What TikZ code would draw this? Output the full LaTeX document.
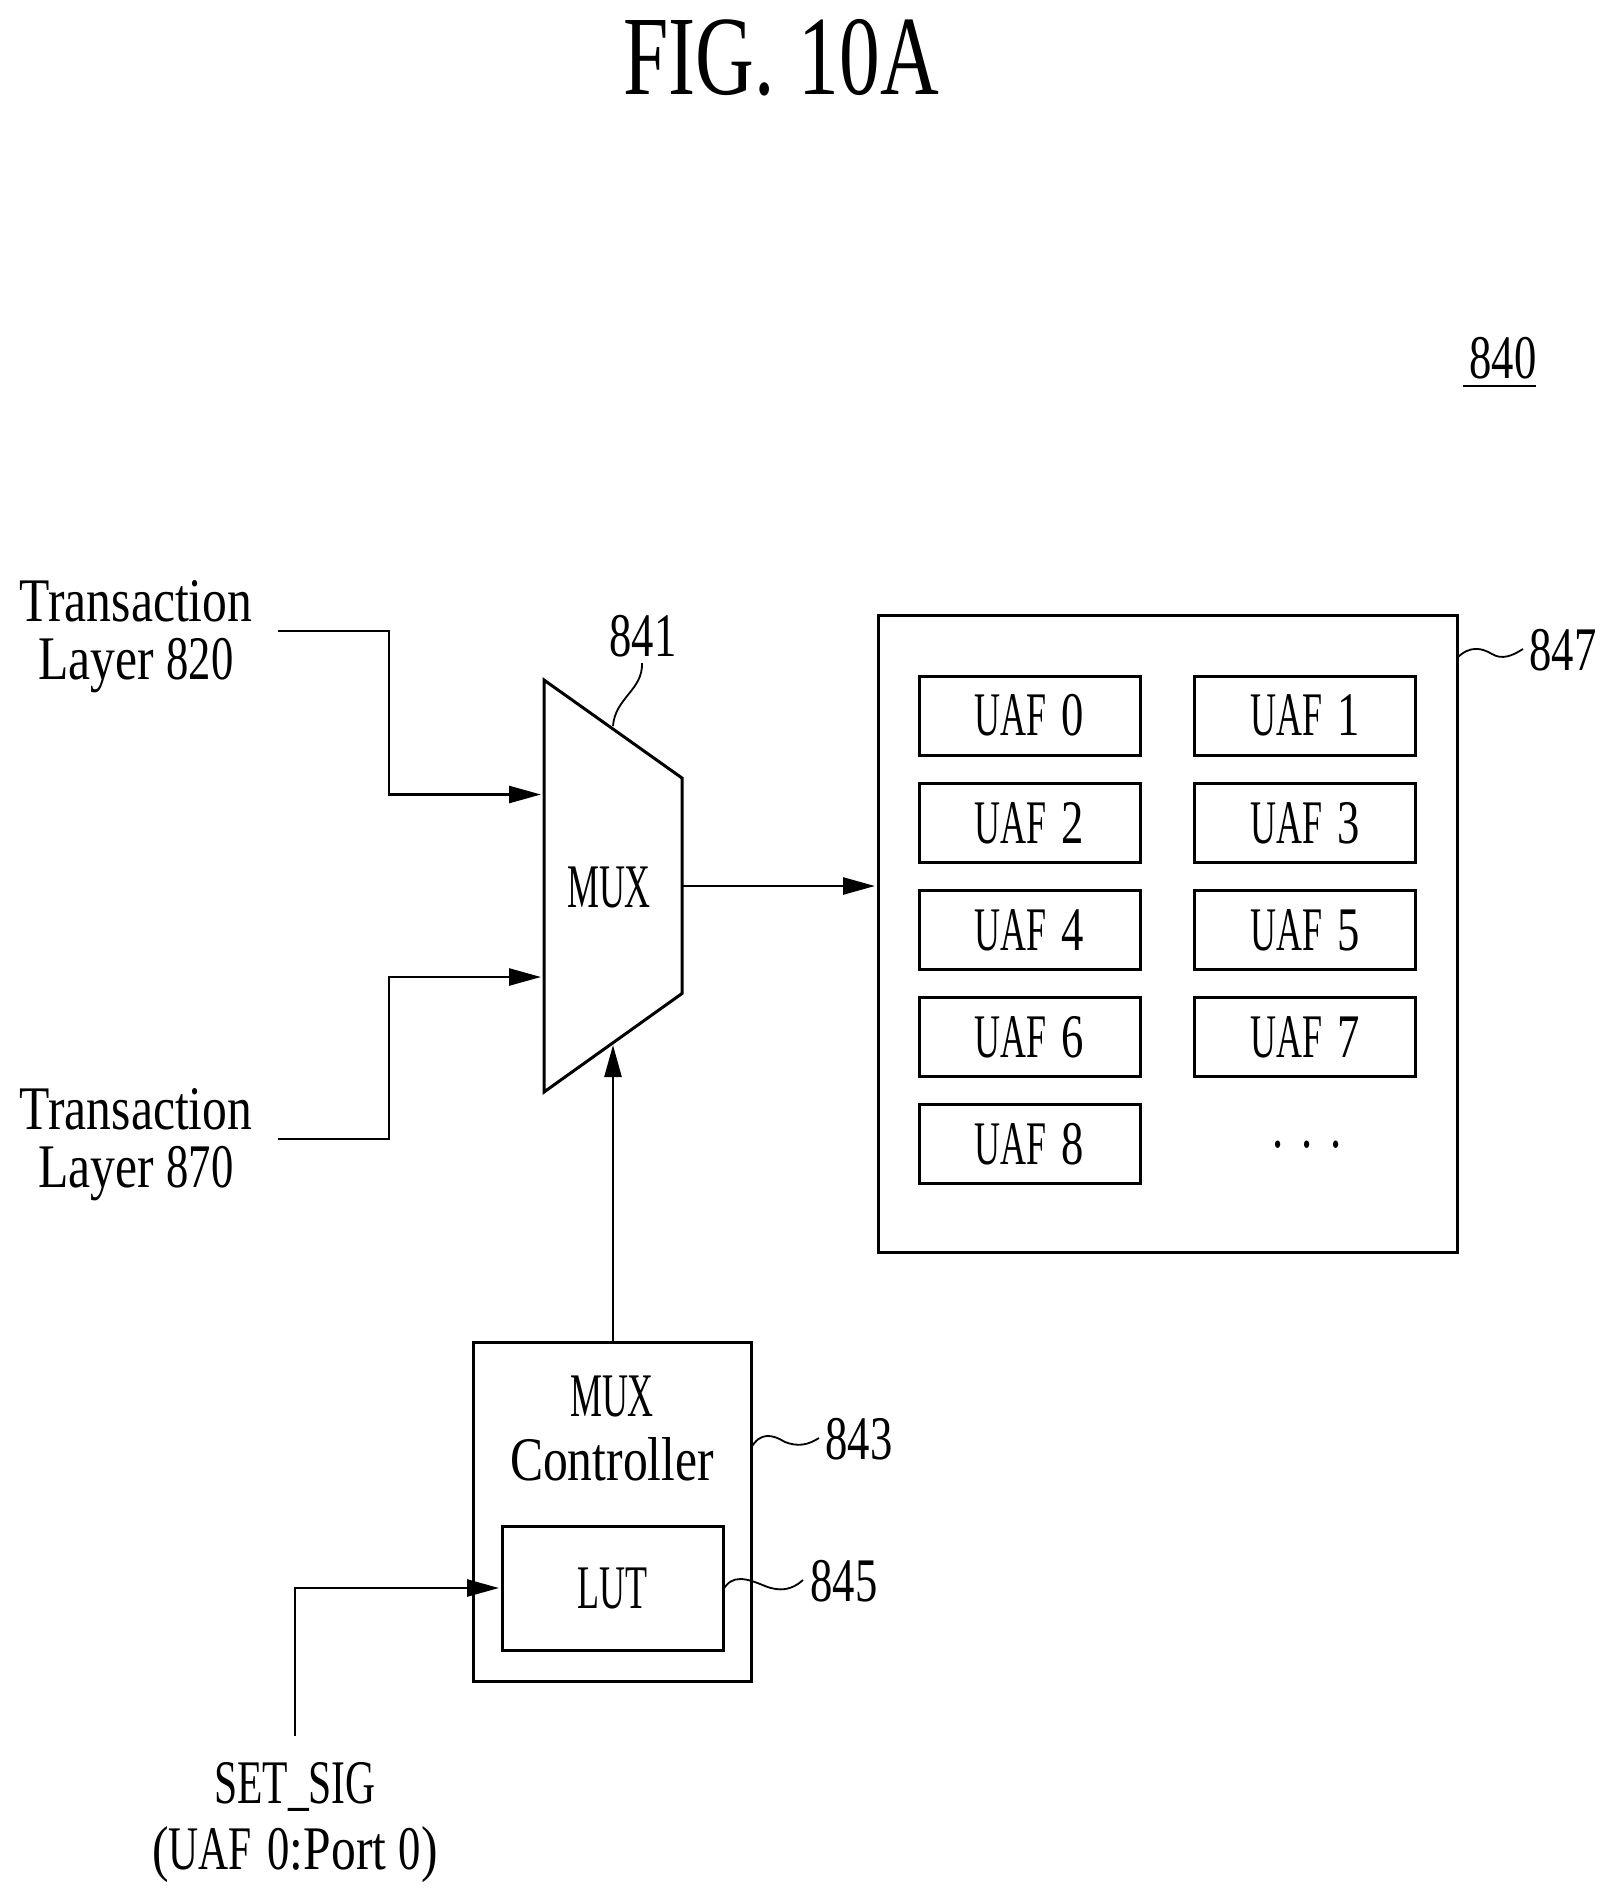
\documentclass[tikz,border=0pt]{standalone}
\usepackage{fontspec}
\setmainfont{Liberation Serif}
\newfontfamily\fmix[FakeStretch=0.80]{Liberation Serif}
\newfontfamily\fcap[FakeStretch=0.58,WordSpace=1.7]{Liberation Serif}
\newfontfamily\fdig[FakeStretch=0.72]{Liberation Serif}
\newfontfamily\fsig[FakeStretch=0.67,WordSpace=1.5]{Liberation Serif}
\newfontfamily\ftitle[FakeStretch=0.72,WordSpace=1.2]{Liberation Serif}
\usetikzlibrary{arrows.meta}
\tikzset{
  lab/.style={inner sep=0pt,outer sep=0pt,align=center,font=\fontsize{31}{29}\selectfont\fdig},
  mixlab/.style={lab,font=\fontsize{31}{29}\selectfont\fmix},
  box/.style 2 args={draw=black,line width=1.5pt,rectangle,inner sep=0pt,outer sep=0pt,
    minimum width=#1*0.5pt,minimum height=#2*0.5pt,font=\fontsize{31}{29}\selectfont\fcap},
  uafbox/.style={box={221}{79}},
  wire/.style={draw=black,line width=1.3pt},
  arrowwire/.style={wire,-{Triangle[length=16pt,width=8.5pt]},shorten >=1.5pt},
  leader/.style={draw=black,line width=0.9pt}
}
\begin{document}
\begin{tikzpicture}[x=0.5pt,y=-0.5pt]
\useasboundingbox (0,0) rectangle (1616,1903);
% title and reference
\node[lab,font=\fontsize{56.5}{60}\selectfont\ftitle] (title) at (781,58) {FIG. 10A};
\node[lab] (r840) at (1503,358) {840};
\coordinate (ul1) at (1463,386);
\coordinate (ul2) at (1536,386);
\draw[wire] (ul1) -- (ul2);
% inputs
\node[mixlab] (t820) at (136,637) {Transaction\\Layer {\fdig 820}};
\node[mixlab] (t870) at (136,1145) {Transaction\\Layer {\fdig 870}};
\coordinate (s820) at (278,631);
\coordinate (c820) at (389,631);
\coordinate (s870) at (278,1139);
\coordinate (c870) at (389,1139);
% mux
\coordinate (m1) at (544,680);
\coordinate (m2) at (682,778);
\coordinate (m3) at (682,993.5);
\coordinate (m4) at (544,1092);
\draw[draw=black,line width=1.5pt,line join=miter] (m1) -- (m2) -- (m3) -- (m4) -- cycle;
\node[lab,font=\fontsize{31}{29}\selectfont\fcap] (mux) at (609,887) {MUX};
\coordinate (in820) at (544,794.5);
\coordinate (in870) at (544,977);
\coordinate (muxout) at (682,886);
\coordinate (muxsel) at (613,1045);
\node[lab] (r841) at (643,636) {841};
\coordinate (l841a) at (642,663);
\coordinate (l841b) at (613,726);
% UAF container
\node[box={579}{637}] (b847) at (1167.5,933.5) {};
\node[uafbox] (u0) at (1029.5,715.5) {UAF {\fdig 0}};
\node[uafbox] (u1) at (1305,715.5) {UAF {\fdig 1}};
\node[uafbox] (u2) at (1029.5,823) {UAF {\fdig 2}};
\node[uafbox] (u3) at (1305,823) {UAF {\fdig 3}};
\node[uafbox] (u4) at (1029.5,930) {UAF {\fdig 4}};
\node[uafbox] (u5) at (1305,930) {UAF {\fdig 5}};
\node[uafbox] (u6) at (1029.5,1037) {UAF {\fdig 6}};
\node[uafbox] (u7) at (1305,1037) {UAF {\fdig 7}};
\node[uafbox] (u8) at (1029.5,1144) {UAF {\fdig 8}};
\node[lab] (dots) at (1307,1145) {.\hspace{8.85pt}.\hspace{8.85pt}.};
\node[lab] (r847) at (1563,650) {847};
\coordinate (l847a) at (1457,658);
\coordinate (l847b) at (1523,649);
\coordinate (in847) at (b847.west |- muxout);
% controller
\node[box={278}{339}] (ctrl) at (612,1511.5) {};
\node[mixlab,font=\fontsize{31}{32}\selectfont\fmix] (ctrltxt) at (612,1428) {{\fcap MUX}\\Controller};
\node[box={221}{124}] (lut) at (612.5,1588) {\raisebox{-1pt}{LUT}};
\node[lab] (r843) at (859,1439) {843};
\node[lab] (r845) at (844,1581) {845};
\coordinate (l843a) at (751,1448);
\coordinate (l843b) at (819,1438);
\coordinate (l845a) at (723,1590);
\coordinate (l845b) at (803,1580);
\coordinate (ctrlout) at (muxsel |- ctrl.north);
% set signal
\node[mixlab,font=\fontsize{31}{33}\selectfont\fmix] (sig) at (295,1823) {{\fsig SET\_SIG}\\({\fsig UAF {\fdig 0}}:Port {\fdig 0})};
\coordinate (s1) at (295,1736);
% connectors
\draw[arrowwire] (s820) -- (c820) -- (c820 |- in820) -- (in820);
\draw[arrowwire] (s870) -- (c870) -- (c870 |- in870) -- (in870);
\draw[arrowwire] (muxout) -- (in847);
\draw[arrowwire,shorten >=0pt] (ctrlout) -- (muxsel);
\draw[arrowwire] (s1) |- (lut.west);
% leaders
\draw[leader] (l841a) .. controls (643,690) and (615,698) .. (l841b);
\draw[leader] (l847a) .. controls (1470,645) and (1482,648) .. (1492,654) .. controls (1502,660) and (1512,656) .. (l847b);
\draw[leader] (l843a) .. controls (760,1432) and (772,1434) .. (785,1442) .. controls (798,1447) and (808,1445) .. (l843b);
\draw[leader] (l845a) .. controls (732,1574) and (746,1578) .. (765,1586) .. controls (780,1592) and (792,1590) .. (l845b);
\end{tikzpicture}
\end{document}
